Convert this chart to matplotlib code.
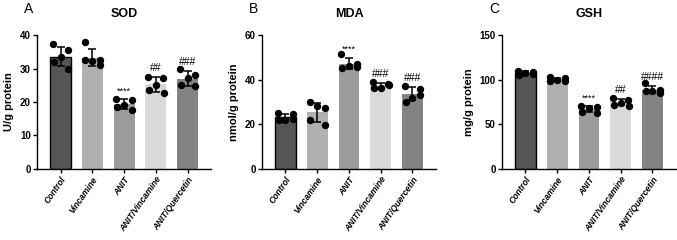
import matplotlib
matplotlib.use("Agg")
import matplotlib.pyplot as plt
import numpy as np

groups = ["Control", "Vincamine", "ANIT", "ANIT/Vincamine", "ANIT/Quercetin"]
bar_colors = ["#565656", "#b0b0b3", "#9b9b9b", "#d9d9d9", "#838383"]

sod_pts = [[37.2, 35.5, 33.5, 31.8, 29.8],
           [37.8, 32.4, 32.2, 32.5, 31.2],
           [21.0, 20.6, 19.2, 18.6, 17.6],
           [27.6, 27.2, 25.2, 23.6, 22.6],
           [29.8, 28.2, 27.2, 25.0, 24.8]]
sod_marks = ["", "", "****", "##", "###"]

mda_pts = [[25.0, 24.6, 22.0, 21.8, 22.6],
           [30.0, 27.4, 28.0, 22.0, 19.8],
           [51.5, 47.2, 46.0, 45.4, 45.6],
           [38.8, 38.2, 36.4, 36.2, 37.6],
           [37.2, 35.8, 32.0, 30.2, 33.2]]
mda_marks = ["", "", "****", "###", "###"]

gsh_pts = [[110.0, 108.5, 107.0, 105.0, 106.0],
           [103.0, 101.5, 100.0, 99.0, 98.0],
           [70.0, 69.0, 68.0, 64.0, 62.5],
           [80.0, 77.0, 74.0, 72.0, 71.0],
           [96.0, 89.0, 87.5, 87.0, 85.0]]
gsh_marks = ["", "", "****", "##", "####"]

panels = [("A", "SOD", "U/g protein", sod_pts, sod_marks, 40, [0, 10, 20, 30, 40]),
          ("B", "MDA", "nmol/g protein", mda_pts, mda_marks, 60, [0, 20, 40, 60]),
          ("C", "GSH", "mg/g protein", gsh_pts, gsh_marks, 150, [0, 50, 100, 150])]

lefts = [0.0547, 0.387, 0.7415]
jitter = [-0.24, 0.24, 0.0, -0.22, 0.25]

plt.rcParams['font.family'] = ['Liberation Sans', 'DejaVu Sans']

fig = plt.figure(figsize=(6.77, 2.4), dpi=100)

for left, (letter, title, ylabel, pts, marks, ymax, yticks) in zip(lefts, panels):
  ax = fig.add_axes([left, 0.296, 0.257, 0.558])
  x = np.arange(len(groups))
  means = [np.mean(p) for p in pts]
  sds = [np.std(p, ddof=1) for p in pts]
  for i in range(len(groups)):
    ec = "black" if i == 0 else "none"
    ax.bar(x[i], means[i], width=0.66, color=bar_colors[i], edgecolor=ec, linewidth=1.0, zorder=1)
    ax.errorbar(x[i], means[i], yerr=sds[i], color="black", capsize=3, elinewidth=1.1,
                capthick=1.1, zorder=3)
    ax.plot(x[i] + np.array(jitter), pts[i], 'o', color="black", markersize=4.3, zorder=4)
    if marks[i]:
      top = means[i] + sds[i]
      ax.text(x[i], top + ymax * 0.03, marks[i], ha='center', va='bottom',
              fontsize=7.5 if '#' in marks[i] else 6.5)

  ax.set_xlim(-0.74, 4.74)
  ax.set_ylim(0, ymax)
  ax.set_yticks(yticks)
  ax.set_xticks(x)
  ax.set_xticklabels(groups, rotation=55, ha='right', rotation_mode='anchor',
                     fontsize=6.2, fontstyle='italic', fontweight='bold')
  for lab in ax.get_yticklabels():
    lab.set_fontsize(7)
    lab.set_fontweight('bold')
  ax.spines['top'].set_visible(False)
  ax.spines['right'].set_visible(False)
  ax.spines['left'].set_linewidth(1.0)
  ax.spines['bottom'].set_linewidth(1.0)
  ax.tick_params(length=3, width=1.0, pad=1.5)
  ax.set_ylabel(ylabel, fontsize=8, fontweight='bold', labelpad=4)
  ax.set_title(title, fontsize=9, fontweight='bold', pad=13)
  fig.text(left - 0.019, 0.962, letter, fontsize=10, ha='left', va='center')

fig.savefig("out.png", dpi=100)
